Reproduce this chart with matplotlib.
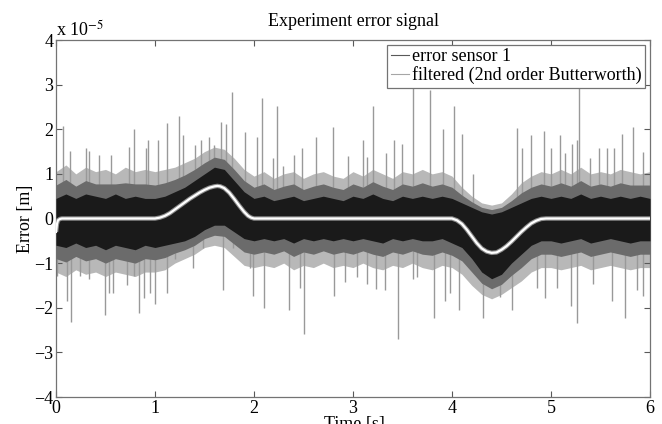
import numpy as np
import matplotlib
matplotlib.use("Agg")
import matplotlib.pyplot as plt
from matplotlib.lines import Line2D

plt.rcParams['font.family'] = ['Liberation Serif', 'DejaVu Serif']
plt.rcParams['mathtext.fontset'] = 'stix'

# ---- data (values in units of 1e-5 m) ----
env_time = [0.0, 0.1, 0.2, 0.3, 0.4, 0.5, 0.6, 0.7, 0.8, 0.9,
            1.0, 1.1, 1.2, 1.3, 1.4, 1.5, 1.6, 1.7, 1.8, 1.9,
            2.0, 2.1, 2.2, 2.3, 2.4, 2.5, 2.6, 2.7, 2.8, 2.9,
            3.0, 3.1, 3.2, 3.3, 3.4, 3.5, 3.6, 3.7, 3.8, 3.9,
            4.0, 4.1, 4.2, 4.3, 4.4, 4.5, 4.6, 4.7, 4.8, 4.9,
            5.0, 5.1, 5.2, 5.3, 5.4, 5.5, 5.6, 5.7, 5.8, 5.9, 6.0]
# dense black band (upper / lower edge)
black_upper = [0.45, 0.55, 0.45, 0.55, 0.5, 0.45, 0.55, 0.45, 0.5, 0.45,
               0.45, 0.5, 0.6, 0.7, 0.85, 1.0, 1.15, 1.1, 0.85, 0.6,
               0.45, 0.5, 0.4, 0.45, 0.5, 0.4, 0.45, 0.5, 0.45, 0.4,
               0.5, 0.45, 0.55, 0.45, 0.4, 0.5, 0.45, 0.5, 0.45, 0.5,
               0.45, 0.35, 0.25, 0.15, 0.1, 0.15, 0.25, 0.35, 0.45, 0.5,
               0.45, 0.5, 0.45, 0.55, 0.45, 0.5, 0.45, 0.5, 0.45, 0.5, 0.45]
black_lower = [-0.6, -0.65, -0.55, -0.65, -0.6, -0.7, -0.6, -0.65, -0.7, -0.6,
               -0.65, -0.6, -0.55, -0.5, -0.4, -0.25, -0.15, -0.15, -0.3, -0.45,
               -0.5, -0.45, -0.5, -0.45, -0.55, -0.45, -0.5, -0.45, -0.5, -0.45,
               -0.5, -0.45, -0.5, -0.55, -0.45, -0.5, -0.45, -0.5, -0.5, -0.45,
               -0.55, -0.65, -0.9, -1.2, -1.35, -1.25, -1.0, -0.8, -0.6, -0.5,
               -0.5, -0.55, -0.5, -0.45, -0.55, -0.5, -0.45, -0.5, -0.55, -0.5, -0.5]
# lighter grey band
grey_upper = [1.05, 1.2, 1.0, 1.15, 1.05, 1.1, 1.0, 1.15, 1.05, 1.1,
              1.05, 1.1, 1.15, 1.25, 1.35, 1.5, 1.6, 1.55, 1.35, 1.1,
              0.95, 1.05, 0.9, 1.0, 1.05, 0.9, 1.0, 1.05, 0.95, 0.9,
              1.05, 0.95, 1.1, 1.0, 0.9, 1.05, 1.0, 1.1, 1.0, 1.05,
              0.95, 0.7, 0.5, 0.35, 0.3, 0.35, 0.55, 0.8, 0.95, 1.05,
              1.0, 1.1, 1.0, 1.15, 1.0, 1.05, 1.0, 1.1, 1.05, 1.0, 1.05]
grey_lower = [-1.2, -1.3, -1.15, -1.25, -1.2, -1.3, -1.2, -1.25, -1.3, -1.2,
              -1.2, -1.15, -1.0, -0.9, -0.8, -0.65, -0.6, -0.65, -0.85, -1.05,
              -1.1, -1.05, -1.1, -1.0, -1.15, -1.05, -1.1, -1.0, -1.1, -1.05,
              -1.1, -1.0, -1.1, -1.15, -1.05, -1.1, -1.0, -1.1, -1.15, -1.05,
              -1.1, -1.25, -1.5, -1.7, -1.8, -1.7, -1.55, -1.4, -1.2, -1.1,
              -1.1, -1.15, -1.1, -1.05, -1.15, -1.1, -1.05, -1.1, -1.15, -1.1, -1.1]

# individual upward spikes (time s, value)
spike_up_t = [0.07, 0.14, 0.30, 0.33, 0.43, 0.56, 0.74, 0.79, 0.91, 0.93,
              1.03, 1.12, 1.24, 1.28, 1.40, 1.46, 1.55, 1.60, 1.67, 1.72,
              1.78, 1.91, 2.03, 2.08, 2.19, 2.23, 2.29, 2.40, 2.48, 2.63,
              2.80, 2.95, 3.10, 3.14, 3.20, 3.33, 3.41, 3.49, 3.61, 3.78,
              3.91, 4.02, 4.10, 4.21, 4.66, 4.71, 4.80, 4.93, 5.00, 5.09,
              5.14, 5.21, 5.26, 5.28, 5.39, 5.48, 5.57, 5.64, 5.72, 5.83, 5.93]
spike_up_v = [2.08, 1.52, 1.57, 1.52, 1.43, 1.43, 1.61, 2.00, 1.57, 1.77,
              1.75, 2.13, 2.29, 1.86, 1.64, 1.77, 1.82, 1.64, 2.17, 2.11,
              2.83, 1.93, 1.82, 2.69, 1.35, 2.51, 1.17, 1.43, 1.59, 1.82,
              2.04, 1.39, 1.77, 1.37, 2.53, 1.46, 1.77, 1.66, 3.05, 2.87,
              2.00, 2.53, 1.90, 1.00, 2.02, 1.57, 1.86, 1.97, 1.57, 1.88,
              1.46, 1.68, 1.77, 3.05, 1.35, 1.59, 1.57, 1.57, 1.90, 2.04, 1.48]
# individual downward spikes (time s, value)
spike_dn_t = [0.01, 0.11, 0.15, 0.24, 0.33, 0.49, 0.54, 0.58, 0.72, 0.79,
              0.84, 0.89, 0.95, 1.00, 1.12, 1.20, 1.38, 1.48, 1.69, 1.79,
              1.96, 1.99, 2.10, 2.35, 2.46, 2.51, 2.81, 2.92, 3.04, 3.14,
              3.23, 3.32, 3.45, 3.61, 3.65, 3.82, 3.93, 3.98, 4.07, 4.31,
              4.48, 4.61, 4.86, 4.94, 5.06, 5.20, 5.26, 5.42, 5.62, 5.75,
              5.87, 5.93]
spike_dn_v = [-1.28, -1.84, -2.33, -1.28, -1.35, -2.17, -1.66, -1.66, -1.50, -1.28,
              -2.11, -1.79, -1.68, -1.91, -1.66, -0.90, -1.10, -0.67, -1.61, -0.67,
              -1.12, -1.73, -2.00, -2.06, -1.55, -2.58, -1.73, -1.43, -1.32, -1.46,
              -1.57, -1.61, -2.71, -1.35, -1.32, -2.24, -1.84, -1.68, -2.06, -2.24,
              -1.77, -2.06, -1.55, -1.79, -1.55, -1.95, -2.35, -1.46, -1.84, -2.24,
              -1.61, -1.73]

# filtered (smooth) signal
filt_t = [0.0, 0.01, 0.02, 0.04, 0.06, 1.0, 1.05, 1.1, 1.15, 1.2, 1.25, 1.3, 1.35,
          1.4, 1.45, 1.5, 1.55, 1.6, 1.63, 1.66, 1.7, 1.75, 1.8, 1.85, 1.9, 1.94,
          1.97, 2.0, 4.0, 4.05, 4.1, 4.15, 4.2, 4.25, 4.3, 4.35, 4.4, 4.45, 4.5,
          4.55, 4.6, 4.65, 4.7, 4.75, 4.8, 4.85, 4.9, 4.95, 6.0]
filt_v = [-0.3, -0.12, -0.04, -0.01, 0.0, 0.0, 0.02, 0.06, 0.12, 0.2, 0.28, 0.36, 0.44,
          0.51, 0.58, 0.64, 0.69, 0.72, 0.73, 0.72, 0.68, 0.58, 0.44, 0.29, 0.15, 0.06,
          0.02, 0.0, 0.0, -0.04, -0.12, -0.25, -0.4, -0.55, -0.67, -0.74, -0.77, -0.76, -0.7,
          -0.62, -0.52, -0.41, -0.3, -0.2, -0.11, -0.05, -0.01, 0.0, 0.0]

x_ticks = [0, 1, 2, 3, 4, 5, 6]
y_ticks = [-4, -3, -2, -1, 0, 1, 2, 3, 4]

# ---- figure ----
fig = plt.figure(figsize=(6.62, 4.24), dpi=100)
ax = fig.add_axes([56/662, 1-397/424, (650-56)/662, (397-40)/424])

gu = np.array(grey_upper); gl = np.array(grey_lower)
bu = np.array(black_upper); bl = np.array(black_lower)
mu = (gu + bu) / 2; ml = (gl + bl) / 2

ax.fill_between(env_time, gl, gu, color='0.72', lw=0, zorder=1)
ax.vlines(spike_up_t, 0, spike_up_v, color='0.6', lw=1.0, zorder=2)
ax.vlines(spike_dn_t, 0, spike_dn_v, color='0.6', lw=1.0, zorder=2)
ax.fill_between(env_time, ml, mu, color='0.42', lw=0, zorder=3)
ax.fill_between(env_time, bl, bu, color='0.1', lw=0, zorder=3)
ax.plot(filt_t, filt_v, color='0.55', lw=3.2, zorder=4, solid_capstyle='butt')
ax.plot(filt_t, filt_v, color='white', lw=1.6, zorder=5)

ax.set_xlim(0, 6)
ax.set_ylim(-4, 4)
ax.set_xticks(x_ticks)
ax.set_yticks(y_ticks)
ax.set_yticklabels([str(v).replace('-', '\u2212') for v in y_ticks])
ax.tick_params(direction='in', length=4, width=0.8, color='0.35', labelsize=13,
               top=True, right=True, pad=2)
for s in ax.spines.values():
    s.set_color('0.45')
    s.set_linewidth(0.9)

ax.set_title('Experiment error signal', fontsize=13, pad=10)
ax.set_ylabel('Error [m]', fontsize=13, labelpad=0)
fig.text((56+650)/2/662 + 0.002, 1-424/424, 'Time [s]', ha='center', va='center', fontsize=13)
ax.text(0.0, 1.0, r'x 10$^{-5}$', transform=ax.transAxes, ha='left', va='bottom', fontsize=13)

handles = [Line2D([], [], color='0.35', lw=0.8), Line2D([], [], color='0.65', lw=0.8)]
leg = ax.legend(handles, ['error sensor 1', 'filtered (2nd order Butterworth)'],
                loc='upper right', fontsize=13, fancybox=False, framealpha=1,
                edgecolor='0.45', borderaxespad=0.25, handlelength=1.0,
                handletextpad=0.2, labelspacing=0.05, borderpad=0.2)
leg.get_frame().set_linewidth(0.9)
leg.set_zorder(10)

fig.savefig('out.png', dpi=100)
